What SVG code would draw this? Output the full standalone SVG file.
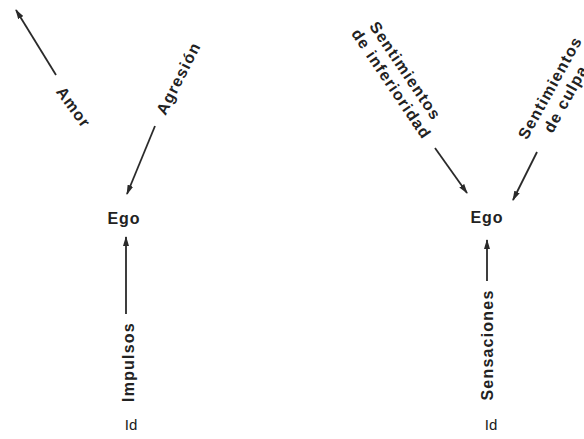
<svg xmlns="http://www.w3.org/2000/svg" width="584" height="439" viewBox="0 0 584 439">
  <style>
    .lbl { font-family: "Liberation Sans", Arial, sans-serif; font-weight: bold; font-size: 16px; fill: #222222; letter-spacing: 1.2px; text-anchor: middle; }
    .ego { font-family: "Liberation Sans", Arial, sans-serif; font-weight: bold; font-size: 16px; fill: #222222; letter-spacing: 1px; text-anchor: middle; }
    .id { font-family: "Liberation Sans", Arial, sans-serif; font-size: 15px; fill: #1a1a1a; text-anchor: middle; }
    .arrow { stroke: #2a2a2a; stroke-width: 1.8; fill: none; marker-end: url(#head); }
  </style>
  <defs>
    <marker id="head" viewBox="0 0 10 6" refX="9" refY="3" markerWidth="10" markerHeight="6" markerUnits="userSpaceOnUse" orient="auto">
      <path d="M0,0 L10,3 L0,6 z" fill="#2a2a2a"/>
    </marker>
  </defs>
  <rect width="584" height="439" fill="#ffffff"/>

  <!-- connectors -->
  <g id="connectors">
    <line class="arrow" x1="56" y1="75" x2="16" y2="10"/>
    <line class="arrow" x1="155" y1="126" x2="127" y2="194"/>
    <line class="arrow" x1="126" y1="314" x2="126" y2="237"/>
    <line class="arrow" x1="435" y1="148" x2="467" y2="193"/>
    <line class="arrow" x1="537" y1="152" x2="513" y2="200"/>
    <line class="arrow" x1="487" y1="281" x2="487" y2="240"/>
  </g>

  <!-- left structure -->
  <g id="amor">
    <text class="lbl" transform="translate(74,107) rotate(54)" x="0" y="6">Amor</text>
  </g>
  <g id="agresion">
    <text class="lbl" transform="translate(178,78) rotate(-63)" x="0" y="6">Agresión</text>
  </g>
  <g id="ego-left">
    <text class="ego" x="124" y="224">Ego</text>
  </g>
  <g id="impulsos">
    <text class="lbl" transform="translate(128,362) rotate(-90)" x="0" y="6">Impulsos</text>
  </g>
  <g id="id-left">
    <text class="id" x="131" y="430">Id</text>
  </g>

  <!-- right structure -->
  <g id="inferioridad">
    <text class="lbl" transform="translate(400,78) rotate(56)">
      <tspan x="0" y="-3">Sentimientos</tspan>
      <tspan x="0" y="16">de inferioridad</tspan>
    </text>
  </g>
  <g id="culpa">
    <text class="lbl" transform="translate(551,85) rotate(-61)">
      <tspan x="0" y="6">Sentimientos</tspan>
      <tspan x="-5" y="25">de culpa</tspan>
    </text>
  </g>
  <g id="ego-right">
    <text class="ego" x="487" y="223">Ego</text>
  </g>
  <g id="sensaciones">
    <text class="lbl" transform="translate(487,345) rotate(-90)" x="0" y="6">Sensaciones</text>
  </g>
  <g id="id-right">
    <text class="id" x="491" y="430">Id</text>
  </g>
</svg>
